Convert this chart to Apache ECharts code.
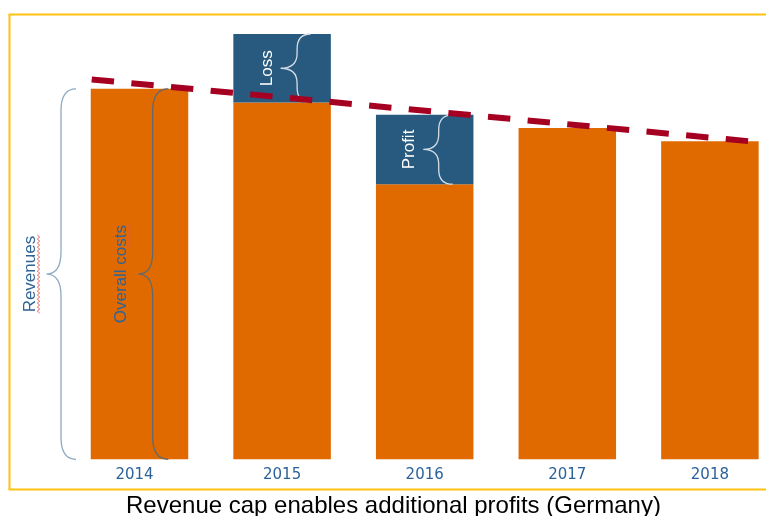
<!DOCTYPE html>
<html lang="en">
<head>
<meta charset="UTF-8">
<title>Revenue cap enables additional profits (Germany)</title>
<script src="https://cdn.jsdelivr.net/npm/echarts@6/dist/echarts.min.js"></script>
<style>
  html, body { margin: 0; padding: 0; background: #fff; overflow: hidden; }
  #chart { width: 766px; height: 516px; }
</style>
</head>
<body>
<div id="chart"></div>
<script>
  // values (arbitrary units, 2015 costs = 100)
  const years = ['2014', '2015', '2016', '2017', '2018'];
  const revenues = [87.1, 83.9, 81.0, 77.9, 74.8];
  const costs = [87.1, 100, 64.7, 77.9, 74.8];
  // revenue cap (dashed line), x in category units
  const capX = [-0.335, 4.272];
  const capY = [89.3, 74.8];

  // orange part = the smaller of the two, blue part = loss or profit
  const baseValues = revenues.map((r, i) => Math.min(r, costs[i]));
  const gapValues = revenues.map((r, i) => r === costs[i] ? null : Math.abs(r - costs[i]));

  const braceNames = ['Revenues', 'Overall costs', 'Loss', 'Profit'];
  const braceData = [
    [0, 0, revenues[0]],
    [0, 0, costs[0]],
    [1, revenues[1], costs[1]],
    [2, costs[2], revenues[2]]
  ];

  // offsets from the bar centre, in px (wave = spell-check squiggle: x, y from, y to)
  const braceStyle = [
    { tip: -93, spine: -78.5, end: -63.5, r: 22, text: -109.5, stroke: '#8EA9C1', color: '#2F6496', wave: [-101, -39, 39] },
    { tip: -1.2, spine: 13.2, end: 28.8, r: 22, text: -17.8, stroke: '#5E6A72', color: '#2F6496', wave: [-11, -50, -26] },
    { tip: -1.5, spine: 15, end: 28.5, r: 15, text: -14.5, stroke: '#D5DEE7', color: '#ffffff' },
    { tip: -1.5, spine: 14, end: 28, r: 15, text: -15, stroke: '#D5DEE7', color: '#ffffff' }
  ];

  function renderBrace(params, api) {
    const s = braceStyle[params.dataIndex];
    const top = api.coord([api.value(0), api.value(2)]);
    const bot = api.coord([api.value(0), api.value(1)]);
    const cx = top[0], y0 = top[1], y1 = bot[1], ym = (y0 + y1) / 2;
    const xe = cx + s.end, xs = cx + s.spine, xp = cx + s.tip, r = s.r;
    const d = 'M' + xe + ',' + y0 +
      ' Q' + xs + ',' + y0 + ' ' + xs + ',' + (y0 + r) +
      ' L' + xs + ',' + (ym - r) +
      ' Q' + xs + ',' + ym + ' ' + xp + ',' + ym +
      ' Q' + xs + ',' + ym + ' ' + xs + ',' + (ym + r) +
      ' L' + xs + ',' + (y1 - r) +
      ' Q' + xs + ',' + y1 + ' ' + xe + ',' + y1;
    const children = [
      { type: 'path', shape: { pathData: d },
        style: { fill: 'none', stroke: s.stroke, lineWidth: 1.3 } },
      { type: 'text', x: cx + s.text, y: ym, rotation: Math.PI / 2,
        style: {
          text: braceNames[params.dataIndex], fill: s.color,
          font: '17px "Liberation Sans", Arial, sans-serif',
          align: 'center', verticalAlign: 'middle'
        } }
    ];
    if (s.wave) {
      const pts = [];
      const wx = cx + s.wave[0];
      for (let y = ym + s.wave[1], k = 0; y <= ym + s.wave[2]; y += 2, k++) {
        pts.push([wx + (k % 2 ? 1.2 : -1.2), y]);
      }
      children.push({ type: 'polyline', shape: { points: pts },
        style: { fill: 'none', stroke: '#E8574C', lineWidth: 0.9 } });
    }
    return { type: 'group', children: children };
  }

  const chart = echarts.init(document.getElementById('chart'));

  chart.setOption({
    animation: false,
    title: {
      text: 'Revenue cap enables additional profits (Germany)',
      left: 126,
      top: 494,
      padding: 0,
      textStyle: {
        fontFamily: '"Liberation Sans", Arial, sans-serif',
        fontSize: 24,
        fontWeight: 'normal',
        color: '#000000'
      }
    },
    graphic: [
      { type: 'line', shape: { x1: 8.5, y1: 14.5, x2: 766, y2: 14.5 }, style: { stroke: '#FFC20E', lineWidth: 2 } },
      { type: 'line', shape: { x1: 9.5, y1: 14.5, x2: 9.5, y2: 489.5 }, style: { stroke: '#FFC20E', lineWidth: 2 } },
      { type: 'line', shape: { x1: 8.5, y1: 489.5, x2: 766, y2: 489.5 }, style: { stroke: '#FFC20E', lineWidth: 2 } }
    ],
    grid: { left: 68.2, width: 713, top: 34, bottom: 56.7, outerBoundsMode: 'none', containLabel: false },
    xAxis: [{
      type: 'category',
      data: years,
      axisLine: { show: false },
      axisTick: { show: false },
      axisLabel: {
        margin: 8,
        color: '#2B629A',
        fontFamily: 'DejaVu Sans',
        fontSize: 15,
        formatter: (v, i) => i === 0 ? '{first|' + v + '}' : v,
        rich: {
          first: { padding: [0, 10, 0, 0], color: '#2B629A', fontFamily: 'DejaVu Sans', fontSize: 15 }
        }
      }
    }, {
      type: 'value',
      min: -0.5,
      max: 4.5,
      show: false
    }],
    yAxis: {
      type: 'value',
      min: 0,
      max: 100,
      show: false
    },
    series: [{
      name: 'base',
      type: 'bar',
      stack: 'total',
      barWidth: 97.5,
      itemStyle: { color: '#E06A00' },
      data: baseValues
    }, {
      name: 'gap',
      type: 'bar',
      stack: 'total',
      barWidth: 97.5,
      itemStyle: { color: '#275A7E' },
      data: gapValues
    }, {
      name: 'braces',
      type: 'custom',
      renderItem: renderBrace,
      encode: { x: 0, y: [1, 2] },
      clip: false,
      silent: true,
      z: 5,
      data: braceData
    }, {
      name: 'revenue cap',
      type: 'line',
      xAxisIndex: 1,
      symbol: 'none',
      silent: true,
      z: 6,
      lineStyle: { color: '#A50021', width: 6, type: [22.4, 17.4] },
      data: capX.map((x, i) => [x, capY[i]])
    }]
  });
</script>
</body>
</html>
